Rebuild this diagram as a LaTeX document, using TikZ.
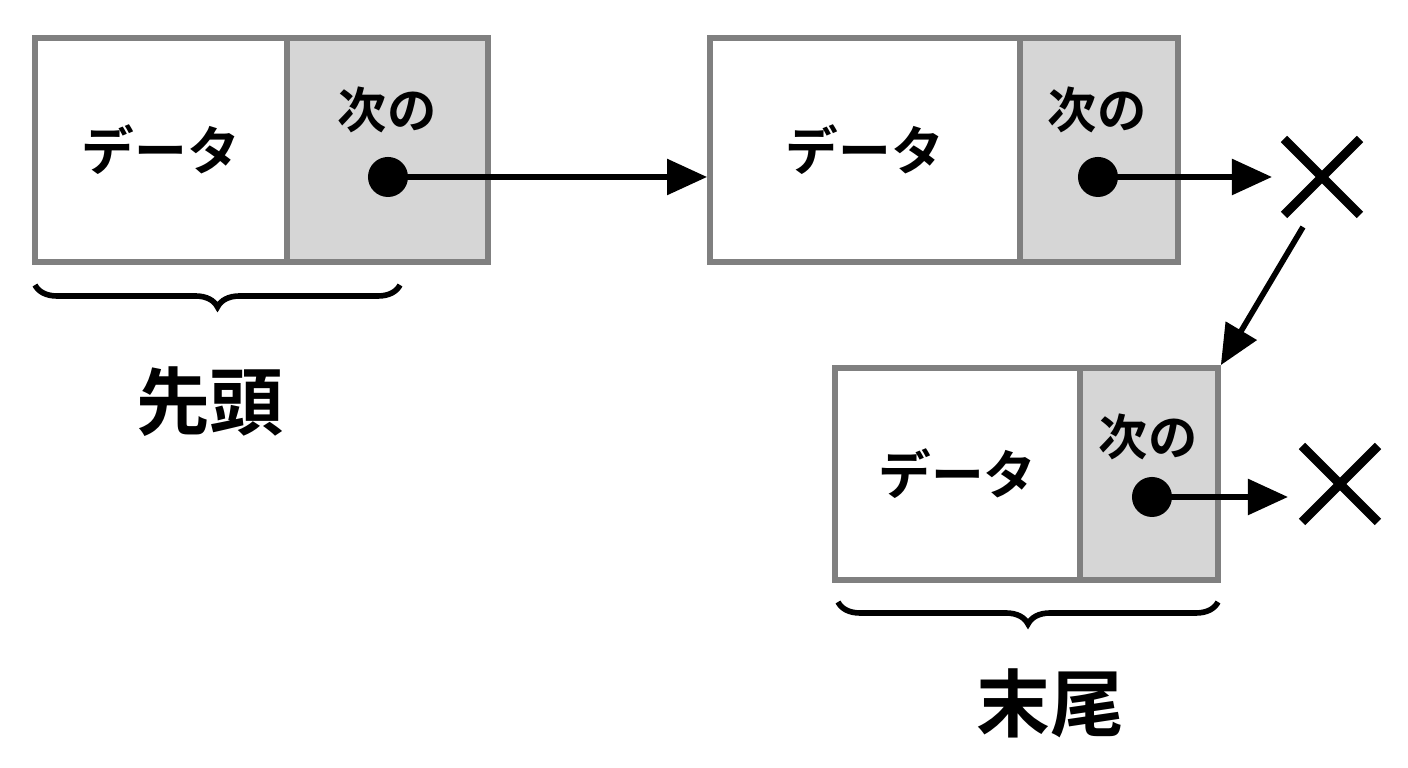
\documentclass[tikz,border=0pt]{standalone}
\usepackage{fontspec}
\newfontfamily\jpfont{Noto Sans CJK JP Bold}
\usetikzlibrary{decorations.pathreplacing, arrows.meta}
\definecolor{cellgray}{HTML}{D6D6D6}
\definecolor{edgegray}{HTML}{808080}
\tikzset{
    datacell/.style={draw=edgegray, line width=1.6pt, fill=white, inner sep=0pt, font=\jpfont\fontsize{15}{18}\selectfont},
    nextcell/.style={draw=edgegray, line width=1.6pt, fill=cellgray, inner sep=0pt},
    ptr/.style={circle, fill=black, inner sep=0pt, minimum size=0.4cm},
    link/.style={-{Triangle[length=0.4cm,width=0.35cm]}, line width=1.6pt},
    nullmark/.style={line width=2.6pt},
    lbl/.style={font=\jpfont\fontsize{21}{25}\selectfont},
    nlbl/.style={font=\jpfont\fontsize{14}{17}\selectfont}
}
\begin{document}
\begin{tikzpicture}[x=0.01cm, y=-0.01cm]
    \useasboundingbox (0,0) rectangle (1408,768);

    % First node
    \node[datacell, minimum width=2.52cm, minimum height=2.24cm] (d1) at (161,150) {データ};
    \node[nextcell, minimum width=2.01cm, minimum height=2.24cm] (n1) at (387.5,150) {};
    \node[nlbl] (t1) at (387,110) {次の};
    \node[ptr] (p1) at (388,177) {};

    % Second node
    \node[datacell, minimum width=3.10cm, minimum height=2.24cm] (d2) at (865,150) {データ};
    \node[nextcell, minimum width=1.58cm, minimum height=2.24cm] (n2) at (1099,150) {};
    \node[nlbl] (t2) at (1097,110) {次の};
    \node[ptr] (p2) at (1098,177) {};

    % Third node
    \node[datacell, minimum width=2.45cm, minimum height=2.12cm] (d3) at (957.5,474) {データ};
    \node[nextcell, minimum width=1.38cm, minimum height=2.12cm] (n3) at (1149,474) {};
    \node[nlbl] (t3) at (1148,437) {次の};
    \node[ptr] (p3) at (1152,497) {};

    % Null marks
    \coordinate (x1) at (1322,177);
    \coordinate (x2) at (1340,484);
    \draw[nullmark] ([shift={(-38,-38)}]x1) -- ([shift={(38,38)}]x1) ([shift={(-38,38)}]x1) -- ([shift={(38,-38)}]x1);
    \draw[nullmark] ([shift={(-38,-38)}]x2) -- ([shift={(38,38)}]x2) ([shift={(-38,38)}]x2) -- ([shift={(38,-38)}]x2);

    % Links
    \coordinate (a2) at (1272,177);
    \coordinate (a3) at (1288,497);
    \coordinate (b1) at (1303,227);
    \draw[link] (p1.center) -- (d2.west |- p1);
    \draw[link] (p2.center) -- (a2);
    \draw[link] (p3.center) -- (a3);
    \draw[link] (b1) -- (n3.north east);

    % Braces
    \draw[line width=1.6pt, decorate, decoration={brace, mirror, amplitude=0.22cm}] (35,285) -- (400,285);
    \node[lbl] (head) at (210,402) {先頭};
    \draw[line width=1.6pt, decorate, decoration={brace, mirror, amplitude=0.22cm}] (838,602) -- (1218,602);
    \node[lbl] (tail) at (1050,703) {末尾};
\end{tikzpicture}
\end{document}
